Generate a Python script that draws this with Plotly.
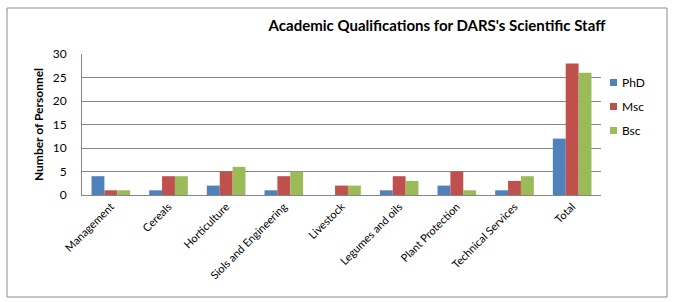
import plotly.graph_objects as go

categories = ["Management", "Cereals", "Horticulture", "Siols and Engineering", "Livestock",
              "Legumes and oils", "Plant Protection", "Technical Services", "Total"]
phd = [4, 1, 2, 1, 0, 1, 2, 1, 12]
msc = [1, 4, 5, 4, 2, 4, 5, 3, 28]
bsc = [1, 4, 6, 5, 2, 3, 1, 4, 26]
series_names = ["PhD", "Msc", "Bsc"]
colors = ["#4F81BD", "#C0504D", "#9BBB59"]

W, H = 675, 302
L, R, T, B = 82, 74, 54, 107
pw, ph = W - L - R, H - T - B

def px_x(x):
    return (x - L) / pw

def px_y(y):
    return (H - B - y) / ph

fig = go.Figure()
for name, vals, c in zip(series_names, [phd, msc, bsc], colors):
    fig.add_trace(go.Bar(x=categories, y=vals, name=name, marker=dict(color=c, line=dict(width=0)),
                         showlegend=False))

font = "Lato, Carlito, 'Open Sans', sans-serif"

shapes = [dict(type="rect", xref="paper", yref="paper",
               x0=px_x(7), x1=px_x(667), y0=px_y(297), y1=px_y(8),
               line=dict(color="#8C8C8C", width=1), layer="below")]
annotations = []
for i, (name, c) in enumerate(zip(series_names, colors)):
    yc = 82.5 + 24 * i
    shapes.append(dict(type="rect", xref="paper", yref="paper",
                       x0=px_x(610), x1=px_x(617), y0=px_y(yc + 3.5), y1=px_y(yc - 3.5),
                       fillcolor=c, line=dict(width=0)))
    annotations.append(dict(text=name, xref="paper", yref="paper", x=px_x(620), y=px_y(yc),
                            xanchor="left", yanchor="middle", showarrow=False,
                            font=dict(family=font, size=12, color="black")))

fig.update_layout(
    width=W, height=H,
    margin=dict(l=L, r=R, t=T, b=B, pad=0),
    paper_bgcolor="white", plot_bgcolor="white",
    barmode="group", bargap=0.33, bargroupgap=0,
    font=dict(family=font, size=11, color="black"),
    title=dict(text="<b>Academic Qualifications for DARS's Scientific Staff</b>",
               font=dict(family=font, size=15, color="black"),
               x=437 / W, xanchor="center", xref="container",
               y=1 - 26 / H, yanchor="middle"),
    showlegend=False,
    shapes=shapes,
    annotations=annotations,
)
fig.update_xaxes(showline=True, linecolor="#868686", linewidth=1, tickangle=-45,
                 tickfont=dict(family=font, size=11), ticks="", showgrid=False)
fig.update_yaxes(range=[0, 30], dtick=5, showline=True, linecolor="#868686", linewidth=1,
                 showgrid=True, gridcolor="#868686", gridwidth=1, zeroline=False,
                 tickfont=dict(family=font, size=12), ticks="", ticklabelstandoff=12,
                 title=dict(text="<b>Number of Personnel</b>", font=dict(family=font, size=12),
                            standoff=6))

fig.write_html("out.html", config={"displayModeBar": False},
               post_script="document.body.style.margin='0px';")
